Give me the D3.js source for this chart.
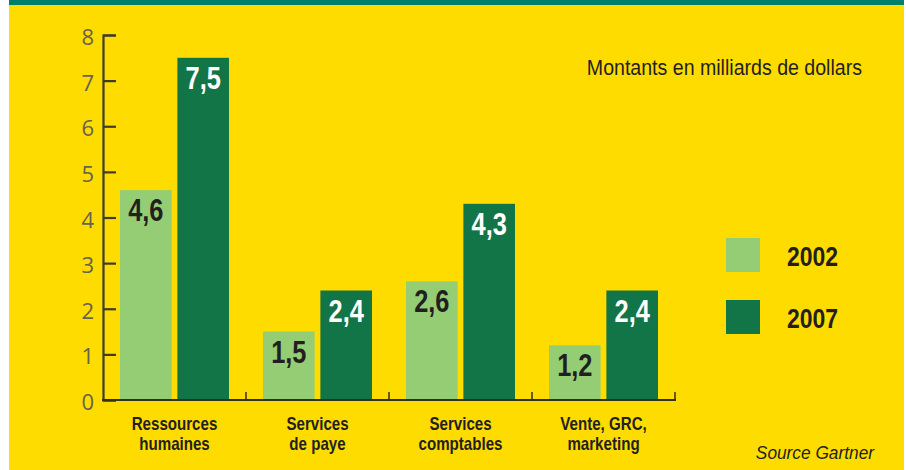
<!DOCTYPE html>
<html>
<head>
<meta charset="utf-8">
<script src="https://cdn.jsdelivr.net/npm/d3@7"></script>
<style>
  body { margin: 0; background: #fff; }
  svg { display: block; }
</style>
</head>
<body>
<div id="chart"></div>
<script>
// amounts in billions of dollars
const categories = [['Ressources', 'humaines'], ['Services', 'de paye'], ['Services', 'comptables'], ['Vente, GRC,', 'marketing']]
const years = ['2002', '2007']
const values2002 = [4.6, 1.5, 2.6, 1.2]
const values2007 = [7.5, 2.4, 4.3, 2.4]
const yTicks = [0, 1, 2, 3, 4, 5, 6, 7, 8]

const W = 906
const H = 470
const sans = '"Liberation Sans", Arial, sans-serif'
const colors = { 2002: '#95cd74', 2007: '#127548' }
const textColor = '#231f20'

// no narrow font installed, so squeeze Liberation Sans horizontally
const place = (x, y, sx) => `translate(${x},${y}) scale(${sx},1)`

const svg = d3.select('#chart').append('svg')
  .attr('width', W)
  .attr('height', H)

// background panel + top band
svg.append('rect').attr('x', 9).attr('y', 0).attr('width', W - 11).attr('height', H).attr('fill', '#ffdc00')
svg.append('rect').attr('x', 9).attr('y', 0).attr('width', W - 11).attr('height', 5).attr('fill', '#00806a')

const rows = categories.map((c, i) => ({ key: i, label: c, 2002: values2002[i], 2007: values2007[i] }))

// scales
const x0 = d3.scaleBand()
  .domain(rows.map(d => d.key))
  .range([103, 675])
  .paddingInner(0.238)
  .paddingOuter(0.119)

const x1 = d3.scaleBand()
  .domain(years)
  .range([0, x0.bandwidth()])
  .paddingInner(0.1)

const y = d3.scaleLinear()
  .domain([0, 8])
  .range([400, 35])

// bars
const groups = svg.selectAll('g.group')
  .data(rows)
  .enter()
  .append('g')
  .attr('class', 'group')
  .attr('transform', d => `translate(${x0(d.key)},0)`)

const bars = groups.selectAll('g.bar')
  .data(d => years.map(yr => ({ year: yr, value: d[yr] })))
  .enter()
  .append('g')

bars.append('rect')
  .attr('x', d => x1(d.year))
  .attr('y', d => y(d.value))
  .attr('width', x1.bandwidth())
  .attr('height', d => y(0) - y(d.value))
  .attr('fill', d => colors[d.year])

// value labels
bars.append('text')
  .attr('transform', d => place(x1(d.year) + x1.bandwidth() / 2, y(d.value) + 31, 0.82))
  .attr('text-anchor', 'middle')
  .style('font-family', sans)
  .style('font-weight', 'bold')
  .style('font-size', '31px')
  .attr('fill', d => d.year === '2007' ? '#fff' : textColor)
  .text(d => String(d.value).replace('.', ','))

// y axis
const yAxis = svg.append('g')
  .attr('transform', 'translate(103,0)')
  .call(d3.axisRight(y).tickValues(yTicks).tickSize(13).tickPadding(0).tickFormat(''))
yAxis.selectAll('path, line').attr('stroke', '#3f3a2c').attr('stroke-width', 2.2)

svg.append('g').selectAll('text')
  .data(yTicks)
  .enter()
  .append('text')
  .attr('x', 94)
  .attr('y', d => y(d) + 10)
  .attr('text-anchor', 'end')
  .style('font-family', '"Open Sans", sans-serif')
  .style('font-size', '22px')
  .attr('fill', '#66634f')
  .text(d => d)

// x axis baseline with small upward ticks at group boundaries
const xEdges = x0.domain().map(k => x0(k) - x0.step() * x0.paddingInner() / 2).slice(1).concat([675])
svg.append('line')
  .attr('x1', 102).attr('x2', 676)
  .attr('y1', y(0)).attr('y2', y(0))
  .attr('stroke', '#332f22').attr('stroke-width', 2.2)
svg.append('g').selectAll('line')
  .data(xEdges)
  .enter()
  .append('line')
  .attr('x1', d => d).attr('x2', d => d)
  .attr('y1', y(0)).attr('y2', y(0) - 8)
  .attr('stroke', '#332f22').attr('stroke-width', 1.5)

// category labels
groups.append('text')
  .attr('transform', place(x0.bandwidth() / 2, 430, 0.84))
  .attr('text-anchor', 'middle')
  .style('font-family', sans)
  .style('font-weight', 'bold')
  .style('font-size', '18px')
  .attr('fill', textColor)
  .selectAll('tspan')
  .data(d => d.label)
  .enter()
  .append('tspan')
  .attr('x', 0)
  .attr('dy', (d, i) => i === 0 ? 0 : 20.5)
  .text(d => d)

// unit note
svg.append('text')
  .attr('transform', place(862, 75, 0.89))
  .attr('text-anchor', 'end')
  .style('font-family', sans)
  .style('font-size', '22px')
  .attr('fill', textColor)
  .text('Montants en milliards de dollars')

// legend
const legend = svg.append('g').selectAll('g')
  .data(years)
  .enter()
  .append('g')
  .attr('transform', (d, i) => `translate(726,${238 + i * 62})`)

legend.append('rect')
  .attr('width', 34)
  .attr('height', 34)
  .attr('fill', d => colors[d])

legend.append('text')
  .attr('transform', place(61, 28, 0.82))
  .style('font-family', sans)
  .style('font-weight', 'bold')
  .style('font-size', '28px')
  .attr('fill', textColor)
  .text(d => d)

// source
svg.append('text')
  .attr('transform', place(874, 459, 0.91))
  .attr('text-anchor', 'end')
  .style('font-family', sans)
  .style('font-style', 'italic')
  .style('font-size', '19px')
  .attr('fill', textColor)
  .text('Source Gartner')
</script>
</body>
</html>
